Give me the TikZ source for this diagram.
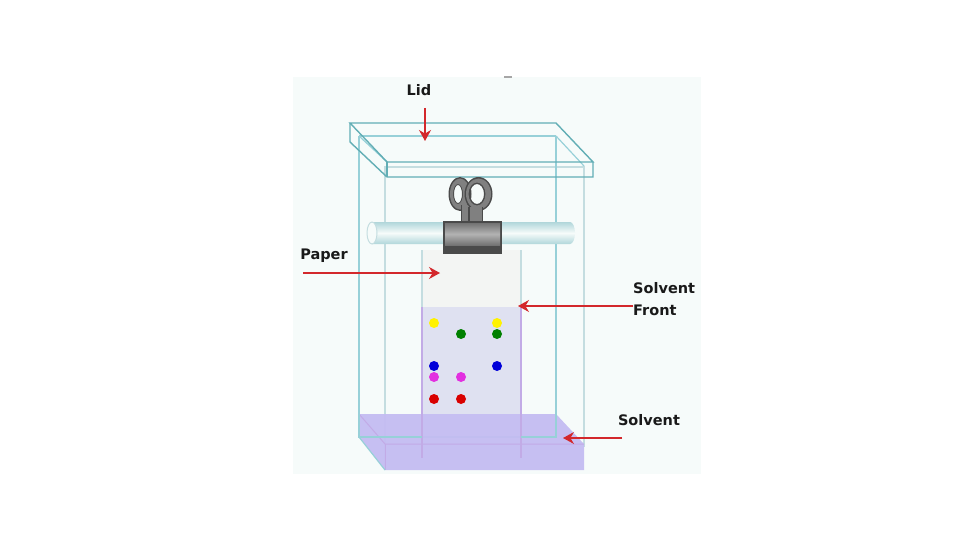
\documentclass[tikz,border=0pt]{standalone}
\usepackage{fontspec}
\setmainfont{DejaVu Sans}
\usepackage{xcolor}
\usetikzlibrary{arrows.meta,positioning}
\definecolor{panelbg}{HTML}{F6FBFA}
\definecolor{glass}{HTML}{97D0D8}
\definecolor{glassfront}{HTML}{C4DDE0}
\definecolor{lidline}{HTML}{62AEB5}
\definecolor{solventfill}{HTML}{C4BCF2}
\definecolor{solventline}{HTML}{C2ABE6}
\definecolor{wetpaper}{HTML}{DFE1F1}
\definecolor{drypaper}{HTML}{F3F5F3}
\definecolor{clipgray}{HTML}{808080}
\definecolor{clipdark}{HTML}{4A4A4A}
\definecolor{arrowred}{HTML}{D3282C}
\definecolor{spotpink}{HTML}{E22FE0}
\begin{document}
\begin{tikzpicture}[
  x=1pt, y=-1pt,
  label/.style={font=\bfseries\fontsize{14.5}{22}\selectfont, inner sep=0pt, text=black!90, align=left},
  arrow/.style={-{Stealth[length=11pt,width=12pt]}, arrowred, line width=1.3pt},
  tank/.style={glass, line width=1.2pt},
  tankfront/.style={glassfront, line width=1.4pt},
  lid/.style={lidline, line width=1.4pt},
  spot/.style={circle, inner sep=0pt, minimum width=9pt, minimum height=10pt},
]
  \useasboundingbox (0,0) rectangle (960,540);
  \fill[white] (0,0) rectangle (960,540);
  \fill[panelbg] (293,77) rectangle (701,474);
  \fill[gray!70] (504,76) rectangle (512,78);

  % tank
  \draw[tankfront] (385,166) -- (385,470) (584,166) -- (584,447);
  \draw[tankfront] (387,167) -- (584,167);
  \draw[tank] (359,136) -- (556,136);
  \draw[tank] (359,136) -- (359,437) -- (556,437) -- (556,136);

  % paper
  \fill[drypaper] (422,250) rectangle (521,307);
  \fill[wetpaper] (422,307) rectangle (521,414);
  \draw[line width=1.2pt, glassfront] (422,250) -- (422,307) (521,250) -- (521,307);
  \draw[line width=1.2pt, solventline] (422,307) -- (422,414) (521,307) -- (521,414);

  % solvent
  \fill[solventfill, opacity=.95] (359,414) -- (556,414) -- (584,444) -- (584,470) -- (385,470) -- (359,437) -- cycle;
  \draw[line width=1pt, solventline] (359,414) -- (385,444) -- (584,444);
  \draw[line width=1pt, solventline] (385,444) -- (385,470);
  \draw[line width=1.2pt, solventline] (422,414) -- (422,458) (521,414) -- (521,458);
  \draw[tank] (359,414) -- (359,437) -- (422,437) (521,437) -- (556,437) -- (556,414);
  \draw[tank] (359,437) -- (385,470);

  % lid
  \draw[tank] (359,136) -- (387,162);
  \draw[tank] (556,136) -- (584,166);
  \draw[lid] (350,123) -- (556,123) -- (593,162) -- (387,162) -- cycle;
  \draw[lid] (350,123) -- (350,142) -- (387,177) -- (593,177) -- (593,162);
  \draw[lid] (387,162) -- (387,177);

  % rod
  \shade[top color=lidline!50, bottom color=lidline!50, middle color=panelbg]
    (372,222) -- (570,222) arc[start angle=90, end angle=-90, x radius=5, y radius=-11] -- (372,244) -- cycle;
  \draw[glassfront, line width=1pt, fill=panelbg] (372,233) ellipse (5 and 11);

  % clip
  \fill[clipdark, even odd rule] (460,194) ellipse (11.5 and 17) (458,194) ellipse (4 and 9);
  \fill[clipgray, even odd rule] (460,194) ellipse (10 and 15.5) (458,194) ellipse (5 and 10);
  \fill[clipdark] (461,205) rectangle (470,224);
  \fill[clipgray] (462,205) rectangle (469,224);
  \fill[clipdark, even odd rule] (478.5,194) ellipse (14 and 17) (477,194) ellipse (7 and 10);
  \fill[clipgray, even odd rule] (478.5,194) ellipse (12.5 and 15.5) (477,194) ellipse (8.5 and 11.5);
  \fill[clipdark] (468,207) rectangle (483,224);
  \fill[clipgray] (469.5,207) rectangle (481.5,224);
  \fill[clipdark] (443,221) -- (502,221) -- (502,254) -- (443,254) -- cycle;
  \shade[top color=black!55, bottom color=black!55, middle color=black!30] (445,223) rectangle (500,245);

  % spots
  \foreach \px/\py/\pc in {434/323/yellow, 497/323/yellow,
      461/334/green!50!black, 497/334/green!50!black,
      434/366/blue!85!black, 497/366/blue!85!black,
      434/377/spotpink, 461/377/spotpink,
      434/399/red!85!black, 461/399/red!85!black} {
    \node[spot, fill=\pc] (spot\px\py) at (\px,\py) {};
  }

  \node[label] (lidlabel) at (419,90) {Lid};
  \node[label] (paperlabel) at (324,256) {Paper};
  \node[label, anchor=west] (frontlabel) at (633,299) {Solvent\\Front};
  \node[label] (solventlabel) at (649,420) {Solvent};

  \coordinate (lidstart) at (425,108);
  \coordinate (lidend) at (425,141);
  \coordinate (paperstart) at (303,273);
  \coordinate (paperend) at (440,273);
  \coordinate (frontstart) at (633,306);
  \coordinate (frontend) at (518,306);
  \coordinate (solventstart) at (622,438);
  \coordinate (solventend) at (563,438);

  \draw[arrow] (lidstart) -- (lidend);
  \draw[arrow] (paperstart) -- (paperend);
  \draw[arrow] (frontstart) -- (frontend);
  \draw[arrow] (solventstart) -- (solventend);
\end{tikzpicture}
\end{document}
